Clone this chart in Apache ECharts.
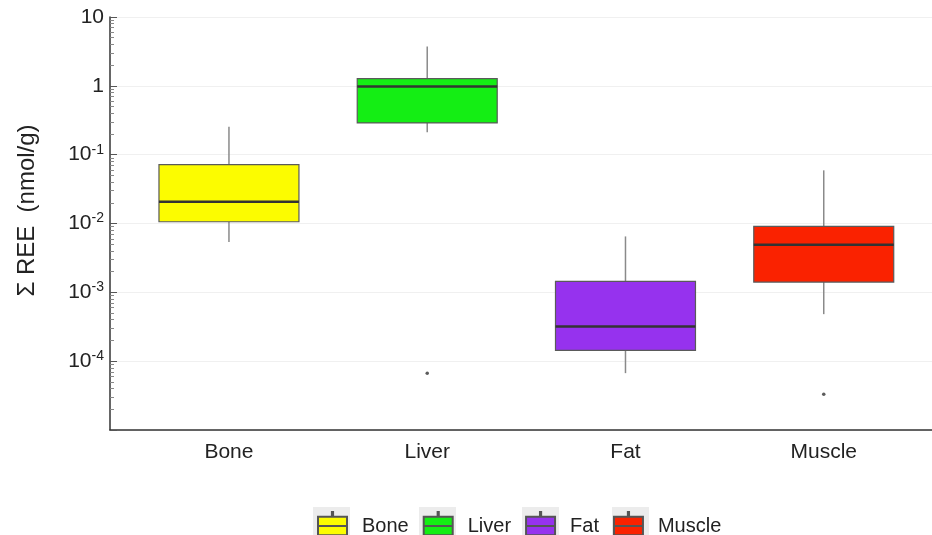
<!DOCTYPE html>
<html>
<head>
<meta charset="utf-8">
<script src="https://cdn.jsdelivr.net/npm/echarts@6/dist/echarts.min.js"></script>
<style>
  html, body { margin: 0; padding: 0; background: #fff; }
  #main { width: 932px; height: 535px; }
</style>
</head>
<body>
<div id="main"></div>
<script>
// tissue groups, box stats: [low, q1, median, q3, high]
const categories = ['Bone', 'Liver', 'Fat', 'Muscle']
const boneStats = [0.0054, 0.0106, 0.0207, 0.0716, 0.255]
const liverStats = [0.211, 0.289, 0.975, 1.27, 3.72]
const fatStats = [0.000067, 0.000143, 0.000318, 0.00144, 0.00649]
const muscleStats = [0.000482, 0.00141, 0.00491, 0.00906, 0.0592]
// outliers: [category position, value]
const outliers = [[2, 0.000067], [4, 0.000033]]
const colors = ['#fcfc00', '#14ee14', '#9632ee', '#fa2200']

const font = 'Liberation Sans, Arial, sans-serif'
const chart = echarts.init(document.getElementById('main'), null, { renderer: 'canvas' })

const boxIcon = 'path://M14.4,0H15.6V5H14.4Z M0,5H30V15H0Z M0,15H30V25H0Z M14.4,25H15.6V30H14.4Z'

function renderBox(params, api) {
  const x = api.value(0)
  const lo = api.coord([x, api.value(1)])
  const q1 = api.coord([x, api.value(2)])
  const med = api.coord([x, api.value(3)])
  const q3 = api.coord([x, api.value(4)])
  const hi = api.coord([x, api.value(5)])
  const w = api.size([0.706, 0])[0]
  const left = lo[0] - w / 2
  return {
    type: 'group',
    children: [
      { type: 'line', shape: { x1: hi[0], y1: hi[1], x2: q3[0], y2: q3[1] },
        style: { stroke: '#8a8a8a', lineWidth: 1.5 } },
      { type: 'line', shape: { x1: q1[0], y1: q1[1], x2: lo[0], y2: lo[1] },
        style: { stroke: '#8a8a8a', lineWidth: 1.5 } },
      { type: 'rect', shape: { x: left, y: q3[1], width: w, height: q1[1] - q3[1] },
        style: { fill: api.visual('color'), stroke: '#5a5a5a', lineWidth: 1.2 } },
      { type: 'line', shape: { x1: left, y1: med[1], x2: left + w, y2: med[1] },
        style: { stroke: '#333', lineWidth: 2.5 } }
    ]
  }
}

const allStats = [boneStats, liverStats, fatStats, muscleStats]
const boxSeries = categories.map((name, i) => ({
  name,
  type: 'custom',
  renderItem: renderBox,
  itemStyle: { color: colors[i], borderColor: '#555', borderWidth: 1 },
  encode: { x: 0, y: [1, 2, 3, 4, 5] },
  data: [[i + 1].concat(allStats[i])]
}))

// light grey squares behind the legend icons
const iconBacks = [313, 419, 522, 612].map(x => ({
  type: 'rect',
  left: x,
  top: 507,
  shape: { width: 37, height: 36 },
  style: { fill: '#ececec' },
  z: -1
}))

const option = {
  animation: false,
  textStyle: { fontFamily: font },
  grid: { left: 110, right: 0, top: 17, bottom: 105 },
  graphic: iconBacks,
  legend: {
    left: 317,
    top: 511,
    padding: 0,
    icon: boxIcon,
    symbolKeepAspect: false,
    itemWidth: 29,
    itemHeight: 28,
    itemGap: 14,
    textStyle: { fontSize: 20, color: '#222', fontFamily: font, padding: [0, 0, 0, 10] },
    data: categories
  },
  xAxis: {
    type: 'value',
    min: 0.4,
    max: 4.546,
    splitLine: { show: false },
    axisLine: { show: true, lineStyle: { color: '#333', width: 1.5 } },
    axisTick: { show: false },
    axisLabel: {
      customValues: [1, 2, 3, 4],
      formatter: v => categories[Math.round(v) - 1] || '',
      fontSize: 21,
      color: '#222',
      margin: 12
    }
  },
  yAxis: {
    type: 'log',
    logBase: 10,
    min: 0.00001,
    max: 10,
    name: 'Σ REE  (nmol/g)',
    nameLocation: 'middle',
    nameRotate: 90,
    nameGap: 71,
    nameTextStyle: { fontSize: 24, color: '#222', padding: [0, 0, 0, 26] },
    axisLine: { show: true, lineStyle: { color: '#333', width: 1.5 } },
    axisTick: { show: true, inside: true, length: 7, lineStyle: { color: '#555' } },
    minorTick: { show: true, splitNumber: 9, length: 4, lineStyle: { color: '#888' } },
    splitLine: { show: true, lineStyle: { color: '#f0f0f0', width: 1 } },
    axisLabel: {
      margin: 6,
      fontSize: 21,
      color: '#222',
      formatter: v => {
        const e = Math.round(Math.log10(v))
        if (e <= -5) return ''
        if (e === 0) return '1'
        if (e === 1) return '10'
        return '10{sup|' + e + '}'
      },
      rich: {
        sup: { fontSize: 14, color: '#222', padding: [0, 0, 10, 0] }
      }
    }
  },
  series: boxSeries.concat([{
    name: 'outliers',
    type: 'scatter',
    symbolSize: 3.5,
    itemStyle: { color: '#333' },
    data: outliers
  }])
}

chart.setOption(option)
</script>
</body>
</html>
